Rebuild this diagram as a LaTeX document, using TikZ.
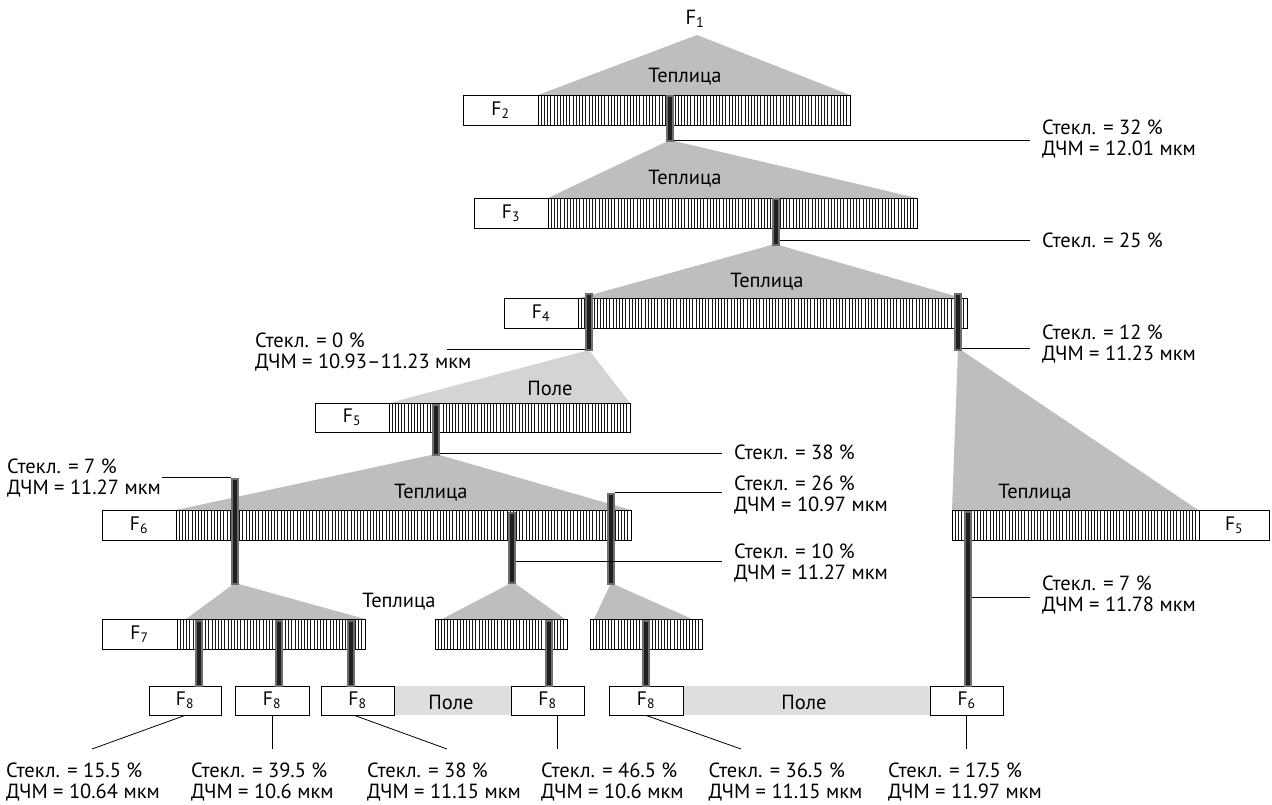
\documentclass[tikz,border=0pt]{standalone}
\usepackage{fontspec}
\setmainfont{PT Sans}
\usetikzlibrary{calc}
\definecolor{tridark}{RGB}{188,190,192}
\definecolor{trilight}{RGB}{211,212,214}
\definecolor{bandcol}{RGB}{221,222,223}
\definecolor{stemedge}{RGB}{109,110,113}
\definecolor{stemcore}{RGB}{35,31,32}
\tikzset{
  tridarkfill/.style={fill=tridark, draw=none},
  trilightfill/.style={fill=trilight, draw=none},
  bandfill/.style={fill=bandcol, draw=none},
  fbox/.style={draw, line width=0.8pt, fill=white, inner sep=0pt, font=\fontsize{19.5}{22}\selectfont},
  hatchframe/.style={draw, line width=0.8pt, fill=white, inner sep=0pt},
  hatchline/.style={line width=0.8pt, black!90},
  stembox/.style={draw=stemedge, fill=stemcore, line width=2pt, inner sep=0pt, minimum width=6pt},
  leader/.style={line width=0.8pt},
  lab/.style={align=left, inner ysep=2pt, inner xsep=12pt, font=\fontsize{20.5}{21}\selectfont},
  fieldlab/.style={inner sep=0pt, font=\fontsize{20.5}{22}\selectfont},
}
% name, x1, y1, x2, y2
\newcommand\hatchbar[5]{%
  \node[hatchframe, minimum width={#4-#2}, minimum height={#5-#3}, anchor=north west] (#1) at (#2,#3) {};
  \pgfmathtruncatemacro\nh{(#4-#2)/3.2}
  \pgfmathsetmacro\hstep{(#4-#2)/(\nh+1)}
  \foreach \i in {1,...,\nh}{\draw[hatchline] ({#2+\i*\hstep},#3) -- ({#2+\i*\hstep},#5);}
  \draw[line width=0.8pt] (#2,#3) rectangle (#4,#5);
}
% name, x, ytop, ybottom
\newcommand\stemnode[4]{%
  \node[stembox, minimum height={#4-#3-2}, anchor=north] (#1) at (#2,{#3+1}) {};
}
\begin{document}
\begin{tikzpicture}[x=1pt,y=-1pt]
\useasboundingbox (0,0) rectangle (1272,805);

% ---------- triangles ----------
\fill[tridarkfill] (697,35) -- (538,95) -- (850,95) -- cycle;
\fill[tridarkfill] (670,140) -- (548,198) -- (917,198) -- cycle;
\fill[tridarkfill] (775,244) -- (580,298) -- (962,298) -- cycle;
\fill[trilightfill] (589,350) -- (389,403) -- (630,403) -- cycle;
\fill[tridarkfill] (436,454) -- (176,510) -- (631,510) -- cycle;
\fill[tridarkfill] (235,583) -- (186,619) -- (365,619) -- cycle;
\fill[tridarkfill] (513,582) -- (442,619) -- (565,619) -- cycle;
\fill[tridarkfill] (611,583) -- (594,619) -- (692,619) -- cycle;
\fill[tridarkfill] (958,348) -- (952,510) -- (1198,510) -- cycle;

% ---------- bottom field bands ----------
\fill[bandfill] (394,686) rectangle (511,715);
\fill[bandfill] (683,686) rectangle (930,715);

% ---------- hatched bars ----------
\hatchbar{h1}{538}{95}{850}{125}
\hatchbar{h2}{548}{198}{917}{228}
\hatchbar{h3}{578}{298}{967}{328}
\hatchbar{h4}{389}{403}{630}{432}
\hatchbar{h5}{176}{510}{631}{540}
\hatchbar{h6}{952}{510}{1199}{540}
\hatchbar{h7}{177}{619}{365}{649}
\hatchbar{h8}{435}{619}{567}{649}
\hatchbar{h9}{590}{619}{702}{649}

% ---------- F boxes ----------
\node[fbox, minimum width=75, minimum height=30] (f2) at (500.5,110) {F\textsubscript{2}};
\node[fbox, minimum width=74, minimum height=30] (f3) at (511,213) {F\textsubscript{3}};
\node[fbox, minimum width=74, minimum height=30] (f4) at (541,313) {F\textsubscript{4}};
\node[fbox, minimum width=74, minimum height=29] (f5) at (352,417.5) {F\textsubscript{5}};
\node[fbox, minimum width=74, minimum height=30] (f6) at (139,525) {F\textsubscript{6}};
\node[fbox, minimum width=70, minimum height=30] (f5r) at (1234,525) {F\textsubscript{5}};
\node[fbox, minimum width=75, minimum height=30] (f7) at (139.5,634) {F\textsubscript{7}};
\node[fbox, minimum width=72, minimum height=29] (f8a) at (185,700.5) {F\textsubscript{8}};
\node[fbox, minimum width=74, minimum height=29] (f8b) at (272,700.5) {F\textsubscript{8}};
\node[fbox, minimum width=73, minimum height=29] (f8c) at (357.5,700.5) {F\textsubscript{8}};
\node[fbox, minimum width=73, minimum height=29] (f8d) at (547.5,700.5) {F\textsubscript{8}};
\node[fbox, minimum width=74, minimum height=29] (f8e) at (646,700.5) {F\textsubscript{8}};
\node[fbox, minimum width=73, minimum height=29] (f6b) at (966.5,700.5) {F\textsubscript{6}};

% ---------- stems ----------
\stemnode{s1}{670}{94}{141}
\stemnode{s2}{775.5}{197}{245}
\stemnode{s3l}{589}{292}{350}
\stemnode{s3r}{958.3}{292}{350}
\stemnode{s4}{436}{403}{455}
\stemnode{sa}{235}{477}{584}
\stemnode{sb}{512}{511}{583}
\stemnode{sc}{611}{492}{584}
\stemnode{s7a}{199}{619}{686}
\stemnode{s7b}{279}{619}{686}
\stemnode{s7c}{351}{619}{686}
\stemnode{s8}{549}{619}{686}
\stemnode{s9}{646}{619}{686}
\stemnode{sbig}{968.3}{510}{686}

% ---------- field / greenhouse labels ----------
\node[fieldlab] (f1) at (695,19) {F\textsubscript{1}};
\node[fieldlab] (t1) at (685,77) {Теплица};
\node[fieldlab] (t2) at (685,179) {Теплица};
\node[fieldlab] (t3) at (767,282) {Теплица};
\node[fieldlab] (p1) at (550,388) {Поле};
\node[fieldlab] (t4) at (431,493) {Теплица};
\node[fieldlab] (t5) at (399,602) {Теплица};
\node[fieldlab] (t6) at (1035,493) {Теплица};
\node[fieldlab] (p2) at (451,702) {Поле};
\node[fieldlab] (p3) at (804,702) {Поле};

% ---------- measurement labels (west anchor = leader end, text 12 further right) ----------
\node[lab, anchor=west] (l32) at (1030,139) {Стекл. = 32 \%\\ДЧМ = 12.01 мкм};
\node[lab, anchor=west] (l25) at (1030,240.7) {Стекл. = 25 \%};
\node[lab, anchor=west] (l0) at (243,352) {Стекл. = 0 \%\\ДЧМ = 10.93–11.23 мкм};
\node[lab, anchor=west] (l12) at (1030,344) {Стекл. = 12 \%\\ДЧМ = 11.23 мкм};
\node[lab, anchor=west] (l38) at (722,452.5) {Стекл. = 38 \%};
\node[lab, anchor=west] (l7l) at (-5,478) {Стекл. = 7 \%\\ДЧМ = 11.27 мкм};
\node[lab, anchor=west] (l26) at (722,495) {Стекл. = 26 \%\\ДЧМ = 10.97 мкм};
\node[lab, anchor=west] (l10) at (722,563) {Стекл. = 10 \%\\ДЧМ = 11.27 мкм};
\node[lab, anchor=west] (l7r) at (1030,595.5) {Стекл. = 7 \%\\ДЧМ = 11.78 мкм};
\node[lab, anchor=west] (b1) at (-6,782) {Стекл. = 15.5 \%\\ДЧМ = 10.64 мкм};
\node[lab, anchor=west] (b2) at (179,782) {Стекл. = 39.5 \%\\ДЧМ = 10.6 мкм};
\node[lab, anchor=west] (b3) at (355,782) {Стекл. = 38 \%\\ДЧМ = 11.15 мкм};
\node[lab, anchor=west] (b4) at (529,782) {Стекл. = 46.5 \%\\ДЧМ = 10.6 мкм};
\node[lab, anchor=west] (b5) at (696.5,782) {Стекл. = 36.5 \%\\ДЧМ = 11.15 мкм};
\node[lab, anchor=west] (b6) at (876,782) {Стекл. = 17.5 \%\\ДЧМ = 11.97 мкм};

% ---------- leader lines ----------
\draw[leader] (s1.east |- 0,140.7) coordinate (a1) -- (a1 -| l32.west);
\draw[leader] (s2.east |- l25.west) -- (l25.west);
\coordinate (c0) at (447,349.3);
\draw[leader] (s3l.west |- c0) -- (c0);
\draw[leader] (s3r.east |- 0,348.3) coordinate (a3) -- (a3 -| l12.west);
\draw[leader] (s4.east |- 0,453.5) coordinate (a4) -- (a4 -| l38.west);
\coordinate (c7) at (161.5,477.7);
\draw[leader] (c7) -- (sa.west |- c7);
\draw[leader] (sc.east |- 0,492.7) coordinate (a5) -- (a5 -| l26.west);
\draw[leader] (sb.east |- 0,561.7) coordinate (a6) -- (a6 -| l10.west);
\draw[leader] (sbig.east |- 0,597.3) coordinate (a7) -- (a7 -| l7r.west);

\coordinate (e1) at (92,749);
\coordinate (e2) at (272,749);
\coordinate (e3) at (447,749);
\coordinate (e4) at (557,749);
\coordinate (e5) at (741,749);
\coordinate (e6) at (966.5,749);
\draw[leader] (f8a.south) -- (e1);
\draw[leader] (f8b.south) -- (e2);
\draw[leader] ([xshift=-3pt]f8c.south) -- (e3);
\draw[leader] ([xshift=9.5pt]f8d.south) -- (e4);
\draw[leader] (f8e.south) -- (e5);
\draw[leader] (f6b.south) -- (e6);
\end{tikzpicture}
\end{document}
